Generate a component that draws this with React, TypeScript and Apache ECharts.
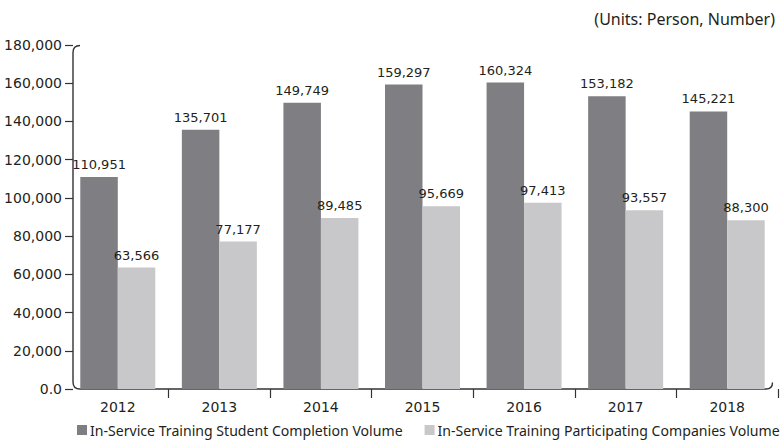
import React, { useEffect, useRef } from "react";
import * as echarts from "echarts";

const years = ["2012", "2013", "2014", "2015", "2016", "2017", "2018"];
const studentCompletion = [110951, 135701, 149749, 159297, 160324, 153182, 145221];
const participatingCompanies = [63566, 77177, 89485, 95669, 97413, 93557, 88300];
const seriesNames = [
  "In-Service Training Student Completion Volume",
  "In-Service Training Participating Companies Volume",
];
const unitsText = "(Units: Person, Number)";

const FRAME_D =
  "M 80 45.5 Q 73 45.5 73 52.5 L 73 382 Q 73 389 80 389 L 766 389 Q 772.5 389 772.5 382.5";

let registered = false;
function ensureShape() {
  if (registered) return;
  echarts.graphic.registerShape("frame", echarts.graphic.extendPath(FRAME_D, {}));
  registered = true;
}

const numFont = "DejaVu Sans";
const textColor = "#231f20";

export default function App() {
  const ref = useRef<HTMLDivElement>(null);
  useEffect(() => {
    if (!ref.current) return;
    ensureShape();
    const chart = echarts.init(ref.current, null, { renderer: "svg" });
    const fmt = (v: number) => (v === 0 ? "0.0" : v.toLocaleString("en-US"));
    chart.setOption({
      animation: false,
      grid: { left: 67, right: 5, top: 45, bottom: 53, containLabel: false },
      xAxis: {
        type: "category",
        data: years,
        boundaryGap: true,
        axisLine: { show: false },
        axisTick: {
          show: true,
          length: 9,
          lineStyle: { color: "#333", width: 1.2 },
          interval: (i: number) => i !== 0,
        },
        axisLabel: { color: textColor, fontFamily: numFont, fontSize: 14, margin: 11 },
      },
      yAxis: {
        type: "value",
        min: 0,
        max: 180000,
        interval: 20000,
        offset: -6,
        axisLine: { show: false },
        splitLine: { show: false },
        axisTick: {
          show: true,
          length: 8,
          lineStyle: { color: "#333", width: 1.2 },
        },
        axisLabel: {
          color: textColor,
          fontFamily: numFont,
          fontSize: 14,
          margin: 11,
          formatter: fmt,
        },
      },
      legend: {
        left: 72,
        top: 418,
        width: 760,
        itemWidth: 10,
        itemHeight: 10,
        itemGap: 22,
        icon: "rect",
        textStyle: { color: textColor, fontFamily: "Noto Sans", fontSize: 14.1, padding: [0, 0, 0, -2] },
        data: seriesNames,
      },
      graphic: [
        {
          type: "frame",
          x: 0,
          y: 0,
          silent: true,
          style: { fill: "none", stroke: "#333", lineWidth: 1.4 },
        },
        {
          type: "text",
          right: 8,
          top: 11,
          style: {
            text: unitsText,
            fill: textColor,
            font: "16px 'Noto Sans'",
          },
        },
      ],
      series: [
        {
          name: seriesNames[0],
          type: "bar",
          data: studentCompletion,
          barWidth: 37.5,
          barGap: "0%",
          itemStyle: { color: "#7f7f83" },
          label: {
            show: true,
            position: "top",
            distance: 6,
            color: textColor,
            fontFamily: numFont,
            fontSize: 13,
            formatter: (p: any) => fmt(p.value),
          },
        },
        {
          name: seriesNames[1],
          type: "bar",
          data: participatingCompanies,
          barWidth: 37.5,
          barGap: "0%",
          itemStyle: { color: "#c8c8ca" },
          label: {
            show: true,
            position: "top",
            distance: 6,
            color: textColor,
            fontFamily: numFont,
            fontSize: 13,
            formatter: (p: any) => fmt(p.value),
          },
        },
      ],
    });
    return () => chart.dispose();
  }, []);
  return <div ref={ref} style={{ width: 783, height: 442, position: "absolute", left: 0, top: 0 }} />;
}
